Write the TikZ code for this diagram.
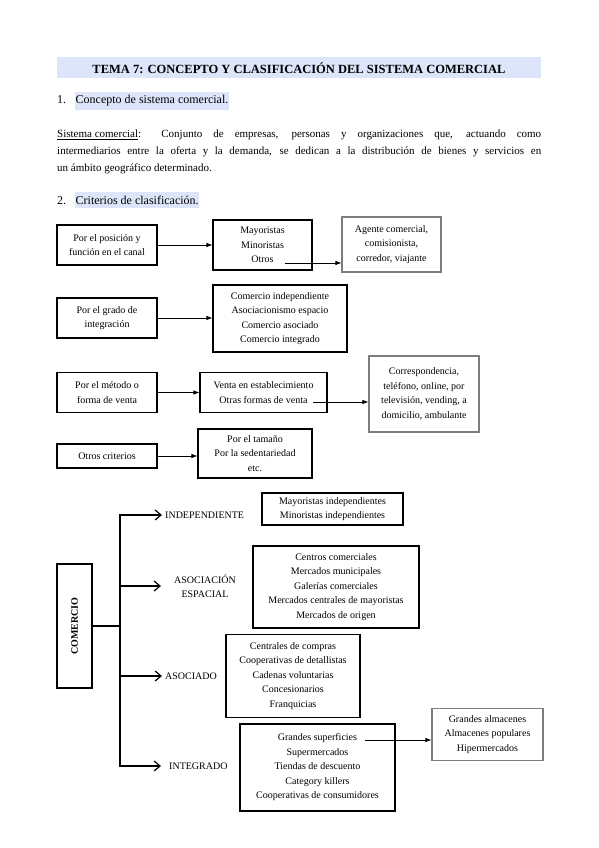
\documentclass[tikz,border=0pt]{standalone}
\usepackage{fontspec}
\setmainfont{Liberation Serif}
\usetikzlibrary{arrows.meta}
\definecolor{hl}{RGB}{221,229,250}
\definecolor{graybd}{RGB}{125,125,125}
\newcommand\boxfont{\fontsize{10}{14.5}\selectfont}
\newcommand\parfont{\fontsize{11}{17}\selectfont}
\newcommand\headfont{\fontsize{12}{14}\selectfont}
\begin{document}
\begin{tikzpicture}[x=1pt,y=-1pt,
  box/.style={draw, line width=1.1pt, align=center, inner sep=2pt, font=\boxfont},
  gbox/.style={box, draw=graybd},
  lbl/.style={align=center, inner sep=0pt, font=\boxfont},
  farr/.style={line width=0.8pt, -{Latex[length=6pt,width=4.5pt]}},
  barr/.style={line width=1.2pt, -{Straight Barb[length=6pt,width=10pt,line width=1.2pt]}},
  trunk/.style={line width=1.2pt}]
\useasboundingbox (0,0) rectangle (599,848);
% title
\fill[hl] (57,57) rectangle (541,78);
\node[font=\fontsize{12.5}{14}\selectfont\bfseries, inner sep=0pt] (title) at (299,68) {TEMA 7: CONCEPTO Y CLASIFICACIÓN DEL SISTEMA COMERCIAL};
% heading 1
\node[anchor=west, font=\headfont, fill=hl, inner xsep=0.5pt, minimum height=16pt] (h1) at (75,101) {Concepto de sistema comercial.};
\node[anchor=base west, font=\headfont, inner sep=0pt] (n1) at (57,0 |- h1.base) {1.};
% paragraph
\node[anchor=north west, font=\parfont, text width=484pt, align=justify, inner sep=0pt] (par) at (57,130)
 {\underline{Sistema comercial}: Conjunto de empresas, personas y organizaciones que, actuando como\linebreak intermediarios entre la oferta y la demanda, se dedican a la distribución de bienes y servicios en\linebreak un ámbito geográfico determinado.};
% heading 2
\node[anchor=west, font=\headfont, fill=hl, inner xsep=0.5pt, minimum height=16pt] (h2) at (75,200) {Criterios de clasificación.};
\node[anchor=base west, font=\headfont, inner sep=0pt] (n2) at (57,0 |- h2.base) {2.};
% row A
\node[box, minimum width=100pt, minimum height=40pt] (a1) at (107,245) {Por el posición y\\función en el canal};
\node[box, minimum width=99pt, minimum height=50pt] (a2) at (262.5,245) {Mayoristas\\Minoristas\\Otros};
\node[gbox, minimum width=99pt, minimum height=55pt] (a3) at (391.5,244.5) {Agente comercial,\\comisionista,\\corredor, viajante};
\draw[farr] (a1) -- (a2);
\coordinate (otros) at (285,263);
\draw[farr] (otros) -- (otros -| a3.west);
% row B
\node[box, minimum width=100pt, minimum height=40pt] (b1) at (107,318) {Por el grado de\\integración};
\node[box, minimum width=134pt, minimum height=67pt] (b2) at (280,318.5) {Comercio independiente\\Asociacionismo espacio\\Comercio asociado\\Comercio integrado};
\draw[farr] (b1) -- (b1 -| b2.west);
% row C
\node[box, minimum width=100pt, minimum height=40pt] (c1) at (107,392.5) {Por el método o\\forma de venta};
\node[box, minimum width=127pt, minimum height=40pt] (c2) at (263.5,392.5) {Venta en establecimiento\\Otras formas de venta};
\node[gbox, minimum width=110pt, minimum height=76pt] (c3) at (424,394) {Correspondencia,\\teléfono, online, por\\televisión, vending, a\\domicilio, ambulante};
\draw[farr] (c1) -- (c2);
\coordinate (otras) at (313,402);
\draw[farr] (otras) -- (otras -| c3.west);
% row D
\node[box, minimum width=100pt, minimum height=24pt] (d1) at (107,456) {Otros criterios};
\node[box, minimum width=114pt, minimum height=49pt] (d2) at (255,453.5) {Por el tamaño\\Por la sedentariedad\\etc.};
\draw[farr] (d1) -- (d1 -| d2.west);
% COMERCIO tree
\node[box, minimum width=124pt, minimum height=35pt, rotate=90, font=\boxfont\bfseries] (com) at (74.5,626) {COMERCIO};
\coordinate (j) at (120,626);
\draw[trunk] (com.south) -- (j);
\node[lbl, anchor=west] (ind) at (165,515) {INDEPENDIENTE};
\node[lbl] (aes) at (205,586) {ASOCIACIÓN\\ESPACIAL};
\node[lbl, anchor=west] (aso) at (165,676) {ASOCIADO};
\node[lbl, anchor=west] (int) at (169,766) {INTEGRADO};
\draw[barr] (j) |- ([xshift=-3pt]ind.west);
\draw[barr] (j) |- ([xshift=-13pt]aes.west);
\draw[barr] (j) |- ([xshift=-3pt]aso.west);
\draw[barr] (j) |- ([xshift=-8pt]int.west);
% boxes
\node[box, minimum width=141pt, minimum height=32pt] (e1) at (332.5,509) {Mayoristas independientes\\Minoristas independientes};
\node[box, minimum width=166pt, minimum height=82pt] (e2) at (336,587) {Centros comerciales\\Mercados municipales\\Galerías comerciales\\Mercados centrales de mayoristas\\Mercados de origen};
\node[box, minimum width=134pt, minimum height=83pt] (e3) at (293,676) {Centrales de compras\\Cooperativas de detallistas\\Cadenas voluntarias\\Concesionarios\\Franquicias};
\node[box, minimum width=155pt, minimum height=87pt] (e4) at (317.5,767.5) {Grandes superficies\\Supermercados\\Tiendas de descuento\\Category killers\\Cooperativas de consumidores};
\node[gbox, minimum width=111pt, minimum height=52pt] (e5) at (487.5,734.5) {Grandes almacenes\\Almacenes populares\\Hipermercados};
\coordinate (gs) at (365,740);
\draw[farr] (gs) -- (gs -| e5.west);
\end{tikzpicture}
\end{document}
